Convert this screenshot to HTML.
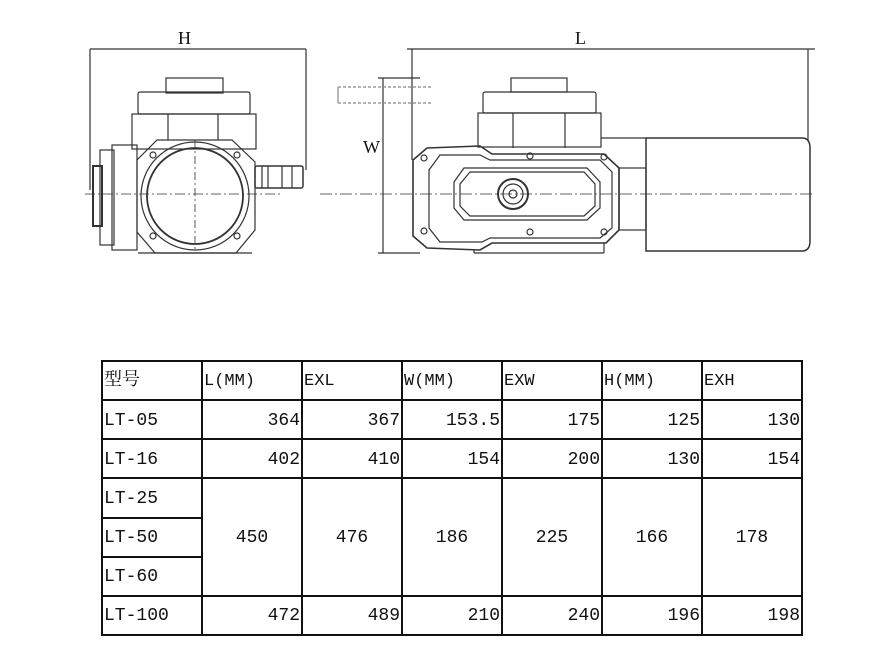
<!DOCTYPE html>
<html><head><meta charset="utf-8"><style>
body{margin:0;background:#fff;}
#c{position:relative;width:892px;height:667px;overflow:hidden;background:#fff;}
svg{position:absolute;left:0;top:0;}
.t{position:absolute;font-family:"Liberation Mono","Noto Serif CJK SC",monospace;font-size:18px;color:#111;line-height:39px;top:0;}
</style></head><body><div id="c">
<svg width="892" height="667" viewBox="0 0 892 667">
<g fill="none" stroke="#333" stroke-width="1.2">
<line x1="90" y1="49" x2="306" y2="49"/>
<line x1="90" y1="49" x2="90" y2="190"/>
<line x1="306" y1="49" x2="306" y2="170"/>
<rect x="166" y="78" width="57" height="15"/>
<rect x="138" y="92" width="112" height="22" rx="2"/>
<rect x="132" y="114" width="124" height="35"/>
<line x1="168" y1="114" x2="168" y2="140"/><line x1="218" y1="114" x2="218" y2="140"/>
<path d="M157 140 L232 140 L255 162 L255 230 L236 253 L155 253 L137 232 L137 160 Z"/>
<line x1="138" y1="253" x2="252" y2="253"/>
<circle cx="195" cy="196" r="54"/>
<circle cx="195" cy="196" r="48" stroke-width="1.8"/>
<rect x="112" y="145" width="25" height="105"/>
<rect x="100" y="150" width="14" height="95"/>
<rect x="93" y="166" width="9" height="60" stroke-width="2"/>
<rect x="255" y="166" width="48" height="22" rx="2" stroke-width="1.5"/>
<line x1="262" y1="166" x2="262" y2="188"/><line x1="268" y1="166" x2="268" y2="188"/><line x1="282" y1="166" x2="282" y2="188"/><line x1="292" y1="166" x2="292" y2="188"/>
<circle cx="153" cy="155" r="3"/><circle cx="237" cy="155" r="3"/><circle cx="153" cy="236" r="3"/><circle cx="237" cy="236" r="3"/>
<line x1="195" y1="140" x2="195" y2="250" stroke-dasharray="8 3 2 3" stroke-width="0.8"/>
<line x1="85" y1="194" x2="280" y2="194" stroke-dasharray="10 3 2 3" stroke-width="0.8"/>
<line x1="383" y1="78" x2="383" y2="253"/>
<line x1="378" y1="78" x2="420" y2="78"/>
<line x1="378" y1="253" x2="420" y2="253"/>
<path d="M338 87 H432 M338 103 H432" stroke-dasharray="3 2" stroke="#888"/>
<line x1="338" y1="87" x2="338" y2="103" stroke="#888"/>
<line x1="320" y1="194" x2="815" y2="194" stroke-dasharray="12 3 2 3" stroke-width="0.8"/>
<line x1="407" y1="49" x2="815" y2="49"/>
<line x1="412" y1="49" x2="412" y2="160"/>
<line x1="808" y1="49" x2="808" y2="140"/>
<rect x="511" y="78" width="56" height="14"/>
<rect x="483" y="92" width="113" height="21" rx="2"/>
<rect x="478" y="113" width="123" height="34"/>
<line x1="513" y1="113" x2="513" y2="148"/><line x1="565" y1="113" x2="565" y2="148"/>
<path d="M427 148 L480 146 L492 154 L604 154 L619 168 L619 230 L606 243 L492 243 L480 250 L427 248 L413 236 L413 160 Z" stroke-width="1.6"/>
<path d="M440 155 L480 155 L490 160 L600 160 L612 172 L612 228 L600 238 L490 238 L482 242 L440 242 L429 228 L429 170 Z"/>
<path d="M464 168 L587 168 L600 182 L600 208 L587 220 L464 220 L454 208 L454 182 Z"/>
<path d="M470 172 L584 172 L595 184 L595 206 L584 216 L470 216 L460 206 L460 184 Z"/>
<circle cx="513" cy="194" r="15" stroke-width="2"/>
<circle cx="513" cy="194" r="10"/>
<circle cx="513" cy="194" r="4"/>
<circle cx="424" cy="158" r="3"/><circle cx="424" cy="231" r="3"/><circle cx="530" cy="156" r="3"/><circle cx="530" cy="232" r="3"/><circle cx="604" cy="157" r="3"/><circle cx="604" cy="232" r="3"/>
<rect x="619" y="168" width="27" height="62"/>
<line x1="601" y1="138" x2="646" y2="138"/>
<line x1="474" y1="250" x2="474" y2="253"/><line x1="474" y1="253" x2="604" y2="253"/><line x1="604" y1="243" x2="604" y2="253"/>
<path d="M646 138 L802 138 Q810 138 810 148 L810 241 Q810 251 802 251 L646 251 Z" stroke-width="1.5"/>
</g>
<g font-family="Liberation Serif,serif" font-size="18" fill="#111">
<text x="178" y="44">H</text>
<text x="575" y="44">L</text>
<text x="363" y="153">W</text>
</g>
<g stroke="#111" stroke-width="2" fill="none">
<rect x="102" y="361" width="700" height="274"/>
<path d="M102 400 H802 M102 439 H802 M102 478 H802 M102 596 H802 M102 518 H202 M102 557 H202"/>
<path d="M202 361 V635 M302 361 V635 M402 361 V635 M502 361 V635 M602 361 V635 M702 361 V635"/>
</g>
</svg>
<div class="t" style="left:104px;top:362px">型号</div>
<div class="t" style="left:204px;top:362px;font-size:17px">L(MM)</div>
<div class="t" style="left:304px;top:362px;font-size:17px">EXL</div>
<div class="t" style="left:404px;top:362px;font-size:17px">W(MM)</div>
<div class="t" style="left:504px;top:362px;font-size:17px">EXW</div>
<div class="t" style="left:604px;top:362px;font-size:17px">H(MM)</div>
<div class="t" style="left:704px;top:362px;font-size:17px">EXH</div>
<div class="t" style="left:104px;top:402px">LT-05</div>
<div class="t" style="left:104px;top:441px">LT-16</div>
<div class="t" style="left:104px;top:480px">LT-25</div>
<div class="t" style="left:104px;top:519px">LT-50</div>
<div class="t" style="left:104px;top:558px">LT-60</div>
<div class="t" style="left:104px;top:597px">LT-100</div>
<div class="t" style="left:202px;top:402px;width:98px;text-align:right">364</div>
<div class="t" style="left:302px;top:402px;width:98px;text-align:right">367</div>
<div class="t" style="left:402px;top:402px;width:98px;text-align:right">153.5</div>
<div class="t" style="left:502px;top:402px;width:98px;text-align:right">175</div>
<div class="t" style="left:602px;top:402px;width:98px;text-align:right">125</div>
<div class="t" style="left:702px;top:402px;width:98px;text-align:right">130</div>
<div class="t" style="left:202px;top:441px;width:98px;text-align:right">402</div>
<div class="t" style="left:302px;top:441px;width:98px;text-align:right">410</div>
<div class="t" style="left:402px;top:441px;width:98px;text-align:right">154</div>
<div class="t" style="left:502px;top:441px;width:98px;text-align:right">200</div>
<div class="t" style="left:602px;top:441px;width:98px;text-align:right">130</div>
<div class="t" style="left:702px;top:441px;width:98px;text-align:right">154</div>
<div class="t" style="left:202px;top:519px;width:100px;text-align:center">450</div>
<div class="t" style="left:302px;top:519px;width:100px;text-align:center">476</div>
<div class="t" style="left:402px;top:519px;width:100px;text-align:center">186</div>
<div class="t" style="left:502px;top:519px;width:100px;text-align:center">225</div>
<div class="t" style="left:602px;top:519px;width:100px;text-align:center">166</div>
<div class="t" style="left:702px;top:519px;width:100px;text-align:center">178</div>
<div class="t" style="left:202px;top:597px;width:98px;text-align:right">472</div>
<div class="t" style="left:302px;top:597px;width:98px;text-align:right">489</div>
<div class="t" style="left:402px;top:597px;width:98px;text-align:right">210</div>
<div class="t" style="left:502px;top:597px;width:98px;text-align:right">240</div>
<div class="t" style="left:602px;top:597px;width:98px;text-align:right">196</div>
<div class="t" style="left:702px;top:597px;width:98px;text-align:right">198</div>
</div></body></html>
